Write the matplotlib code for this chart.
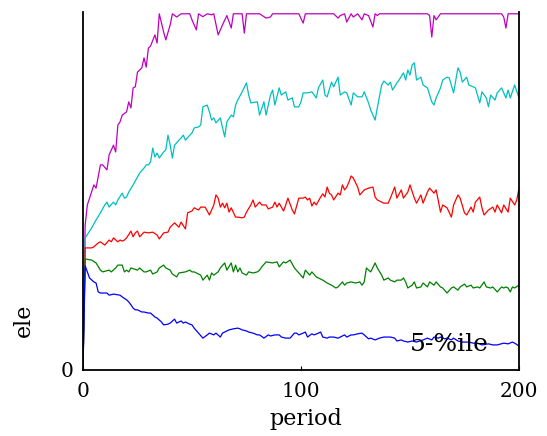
import matplotlib
matplotlib.use('Agg')
import matplotlib.pyplot as plt

# percentile curves over 200 periods (y in 0..1)
m_period = [0, 1, 2, 5, 6, 8, 9, 11, 12, 14, 15, 16, 17, 18, 20, 21, 22, 23, 24, 25, 27, 28, 29, 30, 31, 33, 34, 35,
            37, 38, 40, 41, 43, 45, 49, 50, 52, 53, 55, 57, 59, 60, 62, 64, 66, 68, 69, 73, 74, 75, 81, 84, 86, 87,
            99, 101, 102, 115, 117, 118, 120, 121, 123, 124, 126, 128, 129, 131, 133, 134, 135, 136, 151, 158, 159,
            160, 161, 162, 164, 192, 193, 194, 195, 198, 200]
m_value = [0, 0.405, 0.461, 0.517, 0.508, 0.573, 0.573, 0.559, 0.601, 0.628, 0.609, 0.684, 0.693, 0.712, 0.721,
           0.749, 0.732, 0.788, 0.791, 0.832, 0.844, 0.872, 0.846, 0.899, 0.905, 0.936, 0.913, 0.995, 0.944, 0.922,
           0.964, 0.995, 0.986, 0.995, 0.995, 0.978, 0.950, 0.995, 0.987, 0.995, 0.992, 0.995, 0.936, 0.964, 0.99,
           0.955, 0.995, 0.995, 0.941, 0.995, 0.995, 0.983, 0.986, 0.995, 0.995, 0.969, 0.995, 0.995, 0.983, 0.99,
           0.995, 0.972, 0.995, 0.986, 0.995, 0.978, 0.995, 0.99, 0.958, 0.995, 0.99, 0.995, 0.995, 0.995, 0.99,
           0.930, 0.99, 0.978, 0.995, 0.995, 0.986, 0.955, 0.995, 0.995, 0.995]

c_period = [0, 1, 4, 6, 8, 10, 11, 12, 14, 15, 16, 18, 19, 20, 21, 23, 25, 26, 28, 29, 30, 31, 32, 33, 34, 35, 37,
            38, 39, 40, 41, 42, 44, 45, 46, 47, 49, 50, 51, 53, 54, 55, 57, 58, 59, 60, 61, 63, 65, 66, 68, 69, 70,
            71, 73, 75, 76, 77, 80, 81, 83, 84, 86, 87, 88, 90, 91, 93, 94, 96, 97, 99, 100, 101, 103, 105, 107,
            108, 110, 111, 112, 114, 115, 117, 118, 120, 121, 123, 124, 126, 128, 129, 131, 132, 134, 135, 137,
            138, 140, 141, 142, 144, 145, 147, 148, 149, 150, 151, 152, 153, 155, 156, 158, 160, 161, 162, 164,
            165, 167, 168, 170, 172, 173, 174, 176, 177, 179, 180, 182, 183, 185, 186, 187, 189, 190, 192, 194,
            195, 196, 198, 200]
c_value = [0, 0.369, 0.397, 0.419, 0.439, 0.461, 0.469, 0.455, 0.469, 0.461, 0.475, 0.494, 0.480, 0.483, 0.497,
           0.517, 0.539, 0.550, 0.564, 0.573, 0.573, 0.581, 0.620, 0.595, 0.606, 0.592, 0.609, 0.615, 0.656, 0.628,
           0.592, 0.628, 0.642, 0.648, 0.656, 0.642, 0.656, 0.662, 0.676, 0.679, 0.684, 0.735, 0.740, 0.721, 0.698,
           0.704, 0.690, 0.704, 0.651, 0.693, 0.712, 0.707, 0.740, 0.754, 0.777, 0.802, 0.768, 0.746, 0.749, 0.712,
           0.749, 0.712, 0.768, 0.782, 0.740, 0.788, 0.768, 0.777, 0.754, 0.760, 0.735, 0.735, 0.749, 0.774, 0.774,
           0.777, 0.760, 0.788, 0.810, 0.768, 0.763, 0.804, 0.791, 0.818, 0.768, 0.777, 0.774, 0.740, 0.774, 0.763,
           0.763, 0.777, 0.746, 0.726, 0.698, 0.732, 0.796, 0.807, 0.796, 0.804, 0.782, 0.802, 0.810, 0.830, 0.810,
           0.838, 0.824, 0.852, 0.858, 0.810, 0.818, 0.796, 0.788, 0.749, 0.740, 0.760, 0.788, 0.810, 0.818, 0.816,
           0.774, 0.844, 0.832, 0.804, 0.818, 0.796, 0.791, 0.788, 0.746, 0.777, 0.760, 0.735, 0.768, 0.754, 0.774,
           0.788, 0.760, 0.782, 0.760, 0.796, 0.760]

r_period = [0, 1, 4, 5, 7, 8, 10, 12, 13, 14, 16, 17, 18, 19, 20, 22, 23, 24, 25, 26, 28, 30, 32, 34, 35, 37, 39,
            40, 42, 44, 45, 47, 48, 50, 51, 53, 54, 56, 58, 60, 61, 62, 63, 64, 65, 66, 67, 68, 70, 71, 73, 74, 75,
            77, 78, 79, 81, 82, 84, 85, 87, 88, 89, 90, 92, 93, 94, 96, 97, 99, 101, 102, 103, 104, 105, 106, 107,
            109, 110, 111, 112, 113, 114, 115, 117, 118, 119, 120, 121, 122, 123, 124, 126, 127, 129, 131, 133, 134,
            135, 137, 138, 140, 141, 143, 144, 146, 147, 149, 150, 152, 153, 155, 156, 158, 159, 161, 162, 164, 165,
            167, 169, 170, 172, 173, 175, 176, 178, 179, 180, 182, 183, 184, 186, 188, 189, 190, 192, 193, 195, 196,
            198, 199, 200]
r_value = [0, 0.341, 0.341, 0.344, 0.355, 0.358, 0.349, 0.363, 0.358, 0.369, 0.358, 0.363, 0.360, 0.363, 0.369,
           0.388, 0.372, 0.383, 0.388, 0.372, 0.385, 0.383, 0.385, 0.377, 0.366, 0.383, 0.385, 0.399, 0.411, 0.399,
           0.413, 0.394, 0.439, 0.444, 0.453, 0.447, 0.455, 0.455, 0.433, 0.461, 0.489, 0.480, 0.455, 0.466, 0.453,
           0.466, 0.441, 0.453, 0.427, 0.427, 0.425, 0.427, 0.441, 0.461, 0.475, 0.455, 0.469, 0.461, 0.461, 0.450,
           0.455, 0.469, 0.455, 0.466, 0.444, 0.461, 0.480, 0.447, 0.436, 0.480, 0.480, 0.483, 0.475, 0.480, 0.458,
           0.469, 0.461, 0.483, 0.492, 0.483, 0.511, 0.494, 0.489, 0.475, 0.494, 0.489, 0.517, 0.503, 0.511, 0.525,
           0.542, 0.536, 0.511, 0.489, 0.503, 0.508, 0.511, 0.483, 0.475, 0.469, 0.466, 0.466, 0.480, 0.511, 0.480,
           0.503, 0.480, 0.497, 0.517, 0.480, 0.466, 0.489, 0.466, 0.497, 0.508, 0.494, 0.503, 0.441, 0.461, 0.453,
           0.427, 0.461, 0.489, 0.480, 0.439, 0.433, 0.455, 0.441, 0.469, 0.483, 0.453, 0.433, 0.447, 0.455, 0.441,
           0.461, 0.439, 0.461, 0.441, 0.480, 0.461, 0.475, 0.508]

g_period = [0, 1, 4, 6, 8, 9, 12, 13, 15, 16, 18, 19, 20, 21, 22, 25, 26, 28, 29, 31, 32, 34, 35, 37, 38, 40, 41,
            43, 44, 47, 49, 50, 51, 54, 55, 57, 58, 59, 60, 62, 63, 65, 66, 68, 69, 70, 71, 72, 73, 75, 76, 78, 80,
            81, 82, 84, 87, 89, 90, 92, 93, 95, 97, 99, 101, 102, 104, 105, 107, 108, 110, 112, 114, 116, 117, 119,
            120, 121, 123, 125, 127, 128, 129, 130, 131, 132, 134, 135, 137, 138, 140, 141, 143, 144, 146, 147, 148,
            149, 151, 152, 153, 155, 156, 158, 159, 161, 162, 164, 165, 167, 169, 170, 172, 173, 175, 176, 178, 179,
            181, 182, 184, 185, 187, 188, 190, 192, 193, 194, 195, 196, 197, 198, 200]
g_value = [0, 0.310, 0.307, 0.299, 0.279, 0.274, 0.279, 0.274, 0.285, 0.293, 0.293, 0.274, 0.279, 0.274, 0.285,
           0.279, 0.285, 0.274, 0.274, 0.279, 0.268, 0.274, 0.285, 0.293, 0.285, 0.279, 0.268, 0.260, 0.271, 0.274,
           0.279, 0.274, 0.274, 0.265, 0.251, 0.265, 0.251, 0.271, 0.265, 0.274, 0.285, 0.299, 0.279, 0.299, 0.274,
           0.293, 0.274, 0.285, 0.271, 0.265, 0.274, 0.271, 0.274, 0.279, 0.288, 0.302, 0.299, 0.302, 0.288, 0.302,
           0.299, 0.307, 0.285, 0.271, 0.257, 0.279, 0.265, 0.274, 0.260, 0.257, 0.251, 0.243, 0.237, 0.229, 0.232,
           0.246, 0.237, 0.243, 0.246, 0.243, 0.246, 0.237, 0.246, 0.285, 0.279, 0.274, 0.299, 0.285, 0.265, 0.251,
           0.257, 0.251, 0.246, 0.251, 0.251, 0.257, 0.246, 0.229, 0.237, 0.246, 0.229, 0.232, 0.243, 0.232, 0.246,
           0.237, 0.246, 0.232, 0.229, 0.215, 0.229, 0.232, 0.223, 0.232, 0.240, 0.232, 0.237, 0.229, 0.232, 0.229,
           0.246, 0.232, 0.229, 0.232, 0.218, 0.232, 0.229, 0.232, 0.229, 0.218, 0.232, 0.229, 0.237]

b_period = [0, 1, 3, 5, 6, 7, 8, 11, 12, 14, 17, 18, 20, 21, 22, 23, 24, 25, 27, 28, 30, 31, 33, 34, 36, 37, 39, 40,
            42, 43, 45, 46, 47, 49, 50, 51, 53, 55, 57, 58, 60, 61, 63, 64, 66, 67, 69, 71, 72, 73, 75, 76, 78, 80,
            81, 83, 85, 86, 88, 90, 91, 93, 95, 97, 98, 99, 101, 102, 103, 105, 106, 108, 109, 110, 112, 113, 115,
            117, 118, 120, 121, 123, 124, 126, 128, 129, 131, 132, 134, 136, 138, 139, 141, 143, 144, 146, 147, 149,
            151, 153, 156, 158, 160, 161, 163, 164, 166, 167, 169, 170, 172, 174, 177, 179, 181, 183, 186, 188, 190,
            193, 195, 197, 198, 200]
b_value = [0, 0.291, 0.257, 0.246, 0.243, 0.218, 0.215, 0.215, 0.209, 0.212, 0.209, 0.204, 0.196, 0.190, 0.182,
           0.173, 0.168, 0.168, 0.162, 0.162, 0.159, 0.159, 0.148, 0.145, 0.134, 0.126, 0.128, 0.131, 0.142, 0.131,
           0.137, 0.131, 0.134, 0.128, 0.126, 0.117, 0.103, 0.089, 0.098, 0.103, 0.098, 0.103, 0.092, 0.103, 0.109,
           0.112, 0.115, 0.117, 0.115, 0.112, 0.109, 0.106, 0.103, 0.098, 0.098, 0.089, 0.098, 0.095, 0.098, 0.098,
           0.092, 0.089, 0.089, 0.103, 0.103, 0.098, 0.103, 0.106, 0.092, 0.101, 0.098, 0.103, 0.106, 0.092, 0.089,
           0.092, 0.092, 0.089, 0.092, 0.098, 0.092, 0.098, 0.098, 0.101, 0.103, 0.098, 0.087, 0.089, 0.084, 0.089,
           0.092, 0.092, 0.092, 0.089, 0.081, 0.084, 0.081, 0.078, 0.081, 0.078, 0.084, 0.089, 0.084, 0.092, 0.089,
           0.092, 0.087, 0.089, 0.084, 0.089, 0.081, 0.078, 0.078, 0.075, 0.075, 0.070, 0.073, 0.070, 0.070, 0.075,
           0.073, 0.078, 0.075, 0.067]

series = [
    (m_period, m_value, 'm'),
    (c_period, c_value, 'c'),
    (r_period, r_value, 'r'),
    (g_period, g_value, 'g'),
    (b_period, b_value, 'b'),
]

plt.rcParams['font.family'] = ['DejaVu Serif']

fig = plt.figure(figsize=(5.47, 4.36), dpi=100)
ax = fig.add_axes([0.1517, 0.1514, 0.7971, 0.8211])

for per, val, col in series:
    ax.plot(per, val, color=col, linewidth=0.9)

ax.set_xlim(0, 200)
ax.set_ylim(0, 1)
ax.set_xticks([0, 100, 200])
ax.set_yticks([0])
ax.spines['top'].set_visible(False)
for s in ['left', 'right', 'bottom']:
    ax.spines[s].set_linewidth(1.3)
ax.tick_params(axis='x', direction='in', length=3, pad=9, labelsize=14.5, top=False)
ax.tick_params(axis='y', direction='in', length=0, pad=7, labelsize=14.5, right=False)

ax.set_xlabel('period', fontsize=16)
ax.xaxis.set_label_coords(0.51, -0.105)
ax.set_ylabel('ele', fontsize=16)
ax.yaxis.set_label_coords(-0.11, 0.14)

ax.text(168, 0.072, '5-%ile', fontsize=18, ha='center', va='center')

fig.savefig('out.png', dpi=100)
